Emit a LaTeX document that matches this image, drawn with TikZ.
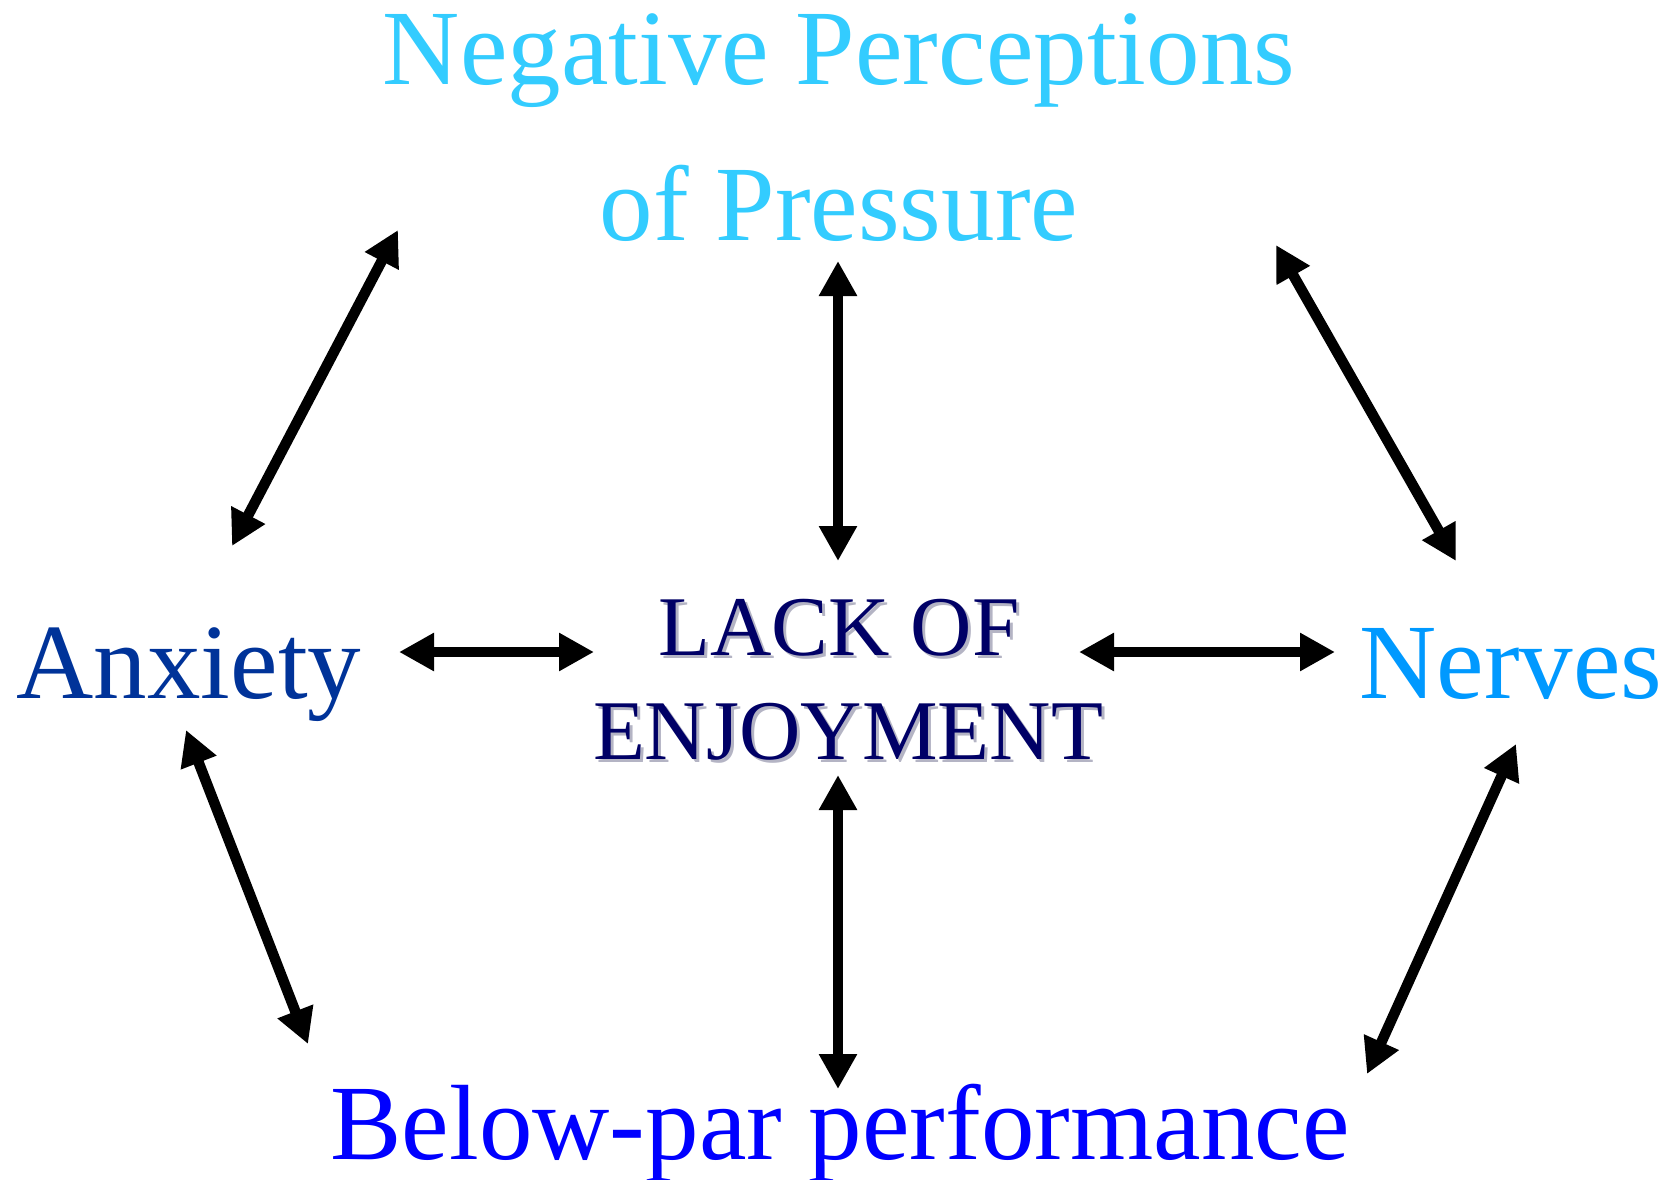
\documentclass[tikz,border=0pt]{standalone}
\usepackage{fontspec}
\setmainfont{Liberation Serif}
\usetikzlibrary{arrows.meta}
\definecolor{negc}{HTML}{33CCFF}
\definecolor{anxc}{HTML}{003399}
\definecolor{nerc}{HTML}{0099FF}
\definecolor{belc}{HTML}{0000FF}
\definecolor{cenc}{HTML}{000066}
\definecolor{shadc}{HTML}{B4B4C4}
\tikzset{
  bigtxt/.style={inner sep=0pt, anchor=base, font=\fontsize{107}{120}\selectfont},
  centxt/.style={inner sep=0pt, anchor=base, font=\fontsize{85}{100}\selectfont},
  dblarrow/.style={line width=10.5pt, {Triangle[length=35pt,width=36pt]}-{Triangle[length=35pt,width=36pt]}, black}
}
\begin{document}
\begin{tikzpicture}[x=1pt,y=-1pt]
\useasboundingbox (0,0) rectangle (1671,1180);
% texts
\node[bigtxt, text=negc] (neg1) at (839,85) {Negative Perceptions};
\node[bigtxt, text=negc] (neg2) at (839,240) {of Pressure};
\node[bigtxt, text=anxc] (anx) at (189,698) {Anxiety};
\node[bigtxt, text=nerc] (ner) at (1511,698) {Nerves};
\node[bigtxt, text=belc] (bel) at (840,1159) {Below-par performance};
\node[centxt, text=shadc] (cen1s) at (842,658) {LACK OF};
\node[centxt, text=shadc] (cen2s) at (851,762) {ENJOYMENT};
\node[centxt, text=cenc] (cen1) at (839,655) {LACK OF};
\node[centxt, text=cenc] (cen2) at (848,759) {ENJOYMENT};
% arrow ends
\coordinate (a1) at (232,546); \coordinate (b1) at (398,230);
\coordinate (a2) at (838,261); \coordinate (b2) at (838,561);
\coordinate (a3) at (1276,245); \coordinate (b3) at (1456,561);
\coordinate (a4) at (399,652); \coordinate (b4) at (594,652);
\coordinate (a5) at (1079,652); \coordinate (b5) at (1335,652);
\coordinate (a6) at (186,730); \coordinate (b6) at (308,1044);
\coordinate (a7) at (838,775); \coordinate (b7) at (838,1089);
\coordinate (a8) at (1516,744); \coordinate (b8) at (1367,1074);
\foreach \i in {1,...,8} { \draw[dblarrow] (a\i) -- (b\i); }
\end{tikzpicture}
\end{document}
